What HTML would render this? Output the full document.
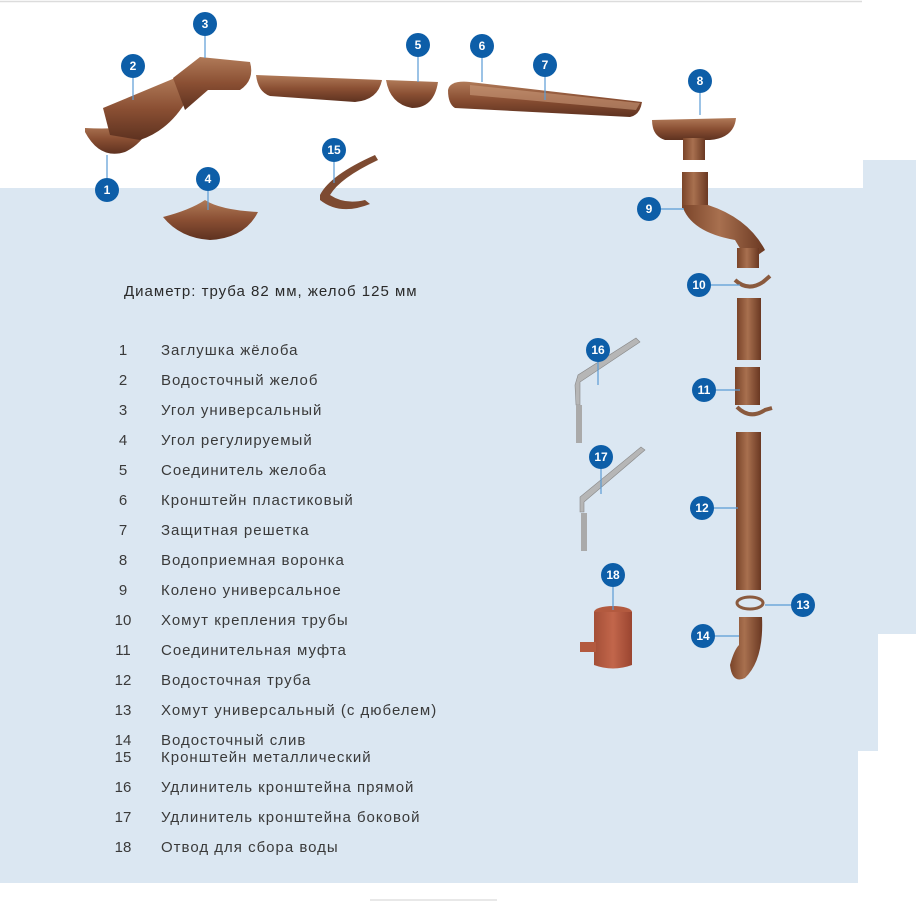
<!DOCTYPE html>
<html><head><meta charset="utf-8"><style>
html,body{margin:0;padding:0;background:#fff;}
body{width:916px;height:905px;position:relative;overflow:hidden;font-family:"Liberation Sans","DejaVu Sans",sans-serif;}
.t{position:absolute;font-size:15px;letter-spacing:1px;color:#3a3a3a;line-height:18px;white-space:nowrap;}
.n{letter-spacing:0;}
</style></head><body>
<svg width="916" height="905" style="position:absolute;left:0;top:0">
<defs>
<linearGradient id="br" x1="0" y1="0" x2="0" y2="1"><stop offset="0" stop-color="#b07a58"/><stop offset="0.5" stop-color="#8a4f33"/><stop offset="1" stop-color="#5e3220"/></linearGradient>
<linearGradient id="bv" x1="0" y1="0" x2="1" y2="0"><stop offset="0" stop-color="#7a4429"/><stop offset="0.45" stop-color="#a8704f"/><stop offset="1" stop-color="#6a3822"/></linearGradient>
<linearGradient id="rd" x1="0" y1="0" x2="1" y2="0"><stop offset="0" stop-color="#a44f37"/><stop offset="0.5" stop-color="#c2664b"/><stop offset="1" stop-color="#9a4530"/></linearGradient>
</defs>
<line x1="0" y1="1.5" x2="862" y2="1.5" stroke="#dcdcdc" stroke-width="1.5"/>
<path d="M0 188 H863 V160 H916 V634 H878 V751 H858 V883 H0 Z" fill="#dbe7f2"/>
<line x1="370" y1="900" x2="497" y2="900" stroke="#e0e0e0" stroke-width="1.5"/>
<path d="M85 132 Q100 160 125 152 Q140 145 150 128 L145 124 Q120 130 85 128 Z" fill="url(#br)"/>
<path d="M103 108 L175 78 L188 98 Q170 130 140 140 L110 135 Z" fill="url(#br)"/>
<path d="M173 78 L200 57 L250 62 Q255 80 240 90 L208 90 L185 110 Z" fill="url(#br)"/>
<path d="M256 75 L382 80 Q378 100 355 102 L270 96 Q258 92 256 75 Z" fill="url(#br)"/>
<path d="M386 80 L438 82 Q434 108 412 108 Q390 104 386 80 Z" fill="url(#br)"/>
<path d="M448 90 Q450 80 470 82 L642 102 Q640 115 630 117 L455 108 Q448 104 448 90 Z" fill="url(#br)"/>
<path d="M470 85 L640 103 L636 110 L470 95 Z" fill="#c99a7a" opacity="0.6"/>
<path d="M652 120 L736 118 Q734 138 710 140 L665 140 Q652 136 652 120 Z" fill="url(#br)"/>
<rect x="683" y="138" width="22" height="22" fill="url(#bv)"/>
<path d="M163 217 Q190 210 205 200 Q220 210 258 212 Q245 238 210 240 Q180 238 163 217 Z" fill="url(#br)"/>
<path d="M320 195 Q330 175 375 155 L378 160 Q340 178 330 195 Q345 205 365 200 L370 204 Q340 216 320 200 Z" fill="#7d4a31"/>
<rect x="682" y="172" width="26" height="36" fill="url(#bv)"/>
<path d="M682 205 Q690 232 735 240 L748 262 L765 250 Q748 218 708 205 Z" fill="url(#bv)"/>
<rect x="737" y="248" width="22" height="20" fill="url(#bv)"/>
<path d="M735 280 Q748 292 763 282 L770 276" stroke="#8a5a3e" stroke-width="4" fill="none"/>
<rect x="737" y="298" width="24" height="62" fill="url(#bv)"/>
<rect x="735" y="367" width="25" height="38" fill="url(#bv)"/>
<path d="M737 407 Q750 420 765 410 L772 408" stroke="#8a5a3e" stroke-width="4" fill="none"/>
<rect x="736" y="432" width="25" height="158" fill="url(#bv)"/>
<ellipse cx="750" cy="603" rx="13" ry="6" fill="none" stroke="#8a5a3e" stroke-width="3"/>
<path d="M739 617 L762 617 Q764 660 745 678 Q732 684 730 665 Q734 650 739 645 Z" fill="url(#bv)"/>
<path d="M576 405 L580 405 L580 382 L640 342 L636 338 L578 375 L575 385 Z" fill="#b6b6b6" stroke="#888" stroke-width="0.6"/>
<rect x="576" y="405" width="6" height="38" fill="#aaa"/>
<path d="M580 512 L584 512 L584 502 L645 450 L641 447 L580 497 Z" fill="#b6b6b6" stroke="#888" stroke-width="0.6"/>
<rect x="581" y="513" width="6" height="38" fill="#aaa"/>
<ellipse cx="613" cy="612" rx="19" ry="6" fill="#b35a3f"/>
<path d="M594 612 L632 612 L632 665 Q613 672 594 665 Z" fill="url(#rd)"/>
<rect x="580" y="642" width="16" height="10" fill="#b35a3f"/>
<g stroke="#5a9bd5" stroke-width="1.2">
<line x1="107" y1="178" x2="107" y2="155"/><line x1="133" y1="78" x2="133" y2="100"/>
<line x1="205" y1="36" x2="205" y2="58"/><line x1="208" y1="191" x2="208" y2="210"/>
<line x1="418" y1="57" x2="418" y2="82"/><line x1="482" y1="58" x2="482" y2="82"/>
<line x1="545" y1="77" x2="545" y2="100"/><line x1="700" y1="93" x2="700" y2="115"/>
<line x1="661" y1="209" x2="684" y2="209"/><line x1="711" y1="285" x2="740" y2="285"/>
<line x1="716" y1="390" x2="740" y2="390"/><line x1="714" y1="508" x2="738" y2="508"/>
<line x1="791" y1="605" x2="765" y2="605"/><line x1="715" y1="636" x2="739" y2="636"/>
<line x1="334" y1="162" x2="334" y2="183"/><line x1="598" y1="362" x2="598" y2="385"/>
<line x1="601" y1="469" x2="601" y2="494"/><line x1="613" y1="587" x2="613" y2="610"/>
</g>
<g fill="#0d5ea8">
<circle cx="107" cy="190" r="12"/><circle cx="133" cy="66" r="12"/><circle cx="205" cy="24" r="12"/>
<circle cx="208" cy="179" r="12"/><circle cx="418" cy="45" r="12"/><circle cx="482" cy="46" r="12"/>
<circle cx="545" cy="65" r="12"/><circle cx="700" cy="81" r="12"/><circle cx="649" cy="209" r="12"/>
<circle cx="699" cy="285" r="12"/><circle cx="704" cy="390" r="12"/><circle cx="702" cy="508" r="12"/>
<circle cx="803" cy="605" r="12"/><circle cx="703" cy="636" r="12"/><circle cx="334" cy="150" r="12"/>
<circle cx="598" cy="350" r="12"/><circle cx="601" cy="457" r="12"/><circle cx="613" cy="575" r="12"/>
</g>
<g fill="#fff" font-family="Liberation Sans,sans-serif" font-size="12" font-weight="bold" text-anchor="middle">
<text x="107" y="194">1</text><text x="133" y="70">2</text><text x="205" y="28">3</text>
<text x="208" y="183">4</text><text x="418" y="49">5</text><text x="482" y="50">6</text>
<text x="545" y="69">7</text><text x="700" y="85">8</text><text x="649" y="213">9</text>
<text x="699" y="289">10</text><text x="704" y="394">11</text><text x="702" y="512">12</text>
<text x="803" y="609">13</text><text x="703" y="640">14</text><text x="334" y="154">15</text>
<text x="598" y="354">16</text><text x="601" y="461">17</text><text x="613" y="579">18</text>
</g>
</svg>
<div class="t" style="left:124px;top:283px;color:#2a2a2a">Диаметр: труба 82 мм, желоб 125 мм</div>
<div class="t n" style="left:110px;top:342px;width:26px;text-align:center">1</div><div class="t" style="left:161px;top:342px">Заглушка жёлоба</div>
<div class="t n" style="left:110px;top:372px;width:26px;text-align:center">2</div><div class="t" style="left:161px;top:372px">Водосточный желоб</div>
<div class="t n" style="left:110px;top:402px;width:26px;text-align:center">3</div><div class="t" style="left:161px;top:402px">Угол универсальный</div>
<div class="t n" style="left:110px;top:432px;width:26px;text-align:center">4</div><div class="t" style="left:161px;top:432px">Угол регулируемый</div>
<div class="t n" style="left:110px;top:462px;width:26px;text-align:center">5</div><div class="t" style="left:161px;top:462px">Соединитель желоба</div>
<div class="t n" style="left:110px;top:492px;width:26px;text-align:center">6</div><div class="t" style="left:161px;top:492px">Кронштейн пластиковый</div>
<div class="t n" style="left:110px;top:522px;width:26px;text-align:center">7</div><div class="t" style="left:161px;top:522px">Защитная решетка</div>
<div class="t n" style="left:110px;top:552px;width:26px;text-align:center">8</div><div class="t" style="left:161px;top:552px">Водоприемная воронка</div>
<div class="t n" style="left:110px;top:582px;width:26px;text-align:center">9</div><div class="t" style="left:161px;top:582px">Колено универсальное</div>
<div class="t n" style="left:110px;top:612px;width:26px;text-align:center">10</div><div class="t" style="left:161px;top:612px">Хомут крепления трубы</div>
<div class="t n" style="left:110px;top:642px;width:26px;text-align:center">11</div><div class="t" style="left:161px;top:642px">Соединительная муфта</div>
<div class="t n" style="left:110px;top:672px;width:26px;text-align:center">12</div><div class="t" style="left:161px;top:672px">Водосточная труба</div>
<div class="t n" style="left:110px;top:702px;width:26px;text-align:center">13</div><div class="t" style="left:161px;top:702px">Хомут универсальный (с дюбелем)</div>
<div class="t n" style="left:110px;top:732px;width:26px;text-align:center">14</div><div class="t" style="left:161px;top:732px">Водосточный слив</div>
<div class="t n" style="left:110px;top:749px;width:26px;text-align:center">15</div><div class="t" style="left:161px;top:749px">Кронштейн металлический</div>
<div class="t n" style="left:110px;top:779px;width:26px;text-align:center">16</div><div class="t" style="left:161px;top:779px">Удлинитель кронштейна прямой</div>
<div class="t n" style="left:110px;top:809px;width:26px;text-align:center">17</div><div class="t" style="left:161px;top:809px">Удлинитель кронштейна боковой</div>
<div class="t n" style="left:110px;top:839px;width:26px;text-align:center">18</div><div class="t" style="left:161px;top:839px">Отвод для сбора воды</div>
</body></html>
